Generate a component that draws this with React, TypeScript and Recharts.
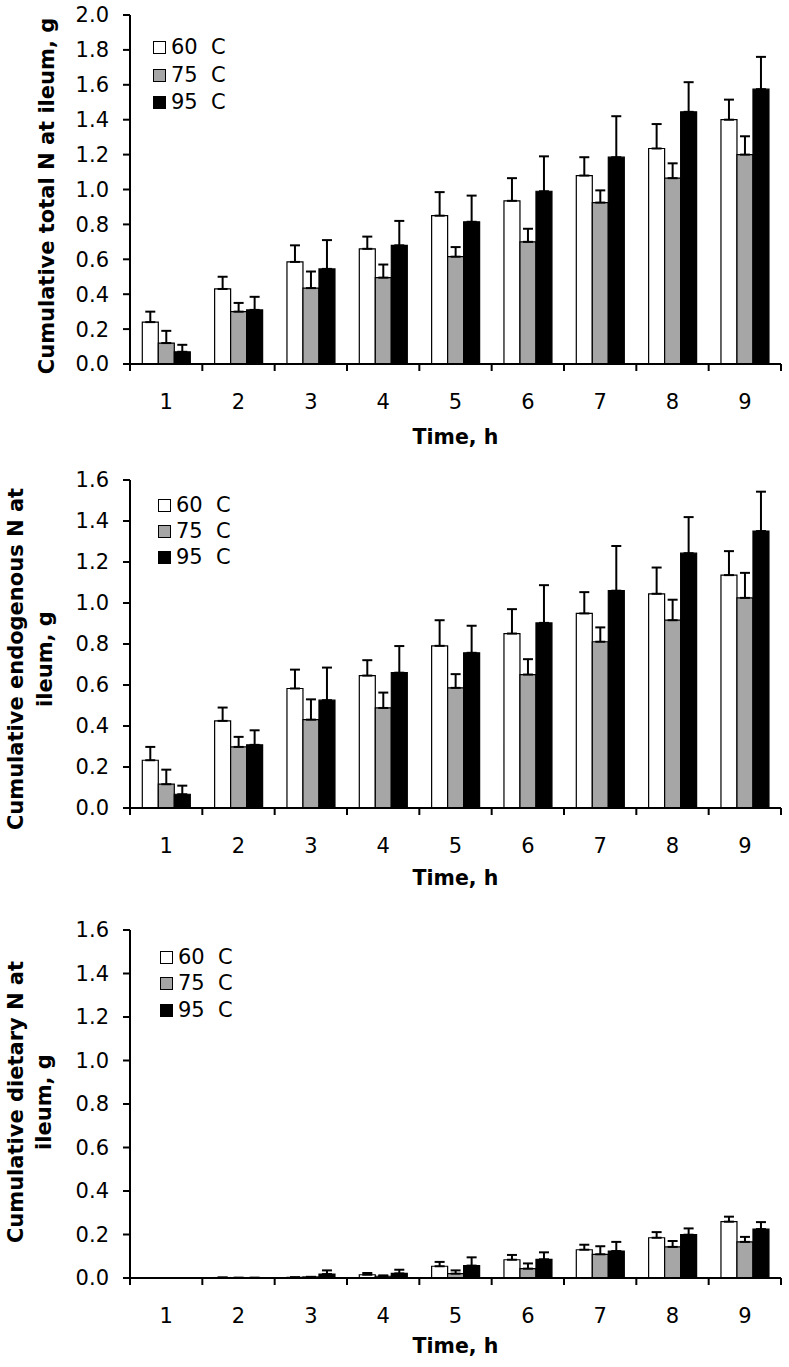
import React from 'react';
import { BarChart, Bar, XAxis, YAxis, ErrorBar, Legend } from 'recharts';

const hours = ['1', '2', '3', '4', '5', '6', '7', '8', '9'];
const seriesNames = ['60  C', '75  C', '95  C'];
const seriesFills = ['#ffffff', '#a6a6a6', '#000000'];

// cumulative total N at ileum, g
const total60 = [0.24, 0.43, 0.585, 0.66, 0.85, 0.935, 1.08, 1.235, 1.4];
const total75 = [0.12, 0.3, 0.435, 0.495, 0.615, 0.7, 0.925, 1.065, 1.2];
const total95 = [0.07, 0.31, 0.545, 0.68, 0.815, 0.99, 1.185, 1.445, 1.575];
const total60Err = [0.06, 0.07, 0.095, 0.07, 0.135, 0.13, 0.105, 0.14, 0.115];
const total75Err = [0.07, 0.05, 0.095, 0.075, 0.055, 0.075, 0.07, 0.085, 0.105];
const total95Err = [0.04, 0.075, 0.165, 0.14, 0.15, 0.2, 0.235, 0.17, 0.185];

// cumulative endogenous N at ileum, g
const endo60 = [0.233, 0.425, 0.583, 0.646, 0.791, 0.851, 0.949, 1.045, 1.136];
const endo75 = [0.116, 0.298, 0.431, 0.488, 0.586, 0.651, 0.811, 0.916, 1.025];
const endo95 = [0.067, 0.308, 0.526, 0.66, 0.757, 0.903, 1.06, 1.243, 1.351];
const endo60Err = [0.065, 0.065, 0.092, 0.075, 0.125, 0.119, 0.104, 0.128, 0.117];
const endo75Err = [0.071, 0.049, 0.099, 0.075, 0.067, 0.075, 0.07, 0.1, 0.122];
const endo95Err = [0.042, 0.071, 0.159, 0.13, 0.132, 0.184, 0.218, 0.176, 0.192];

// cumulative dietary N at ileum, g
const diet60 = [0, 0.002, 0.003, 0.015, 0.054, 0.084, 0.13, 0.185, 0.259];
const diet75 = [0, 0.001, 0.005, 0.008, 0.02, 0.043, 0.109, 0.143, 0.166];
const diet95 = [0, 0.001, 0.018, 0.021, 0.057, 0.086, 0.124, 0.199, 0.225];
const diet60Err = [0, 0, 0, 0.008, 0.02, 0.022, 0.023, 0.026, 0.023];
const diet75Err = [0, 0, 0, 0.004, 0.015, 0.024, 0.037, 0.027, 0.023];
const diet95Err = [0, 0, 0.017, 0.017, 0.038, 0.032, 0.042, 0.029, 0.032];

const ticks20 = [0, 0.2, 0.4, 0.6, 0.8, 1.0, 1.2, 1.4, 1.6, 1.8, 2.0];
const ticks16 = [0, 0.2, 0.4, 0.6, 0.8, 1.0, 1.2, 1.4, 1.6];

const FONT = "'DejaVu Sans', sans-serif";
const W = 789;
const Y_AXIS_W = 130;
const RIGHT = 8;
const BAND = (W - Y_AXIS_W - RIGHT) / hours.length;

function makeRows(vals: number[][], errs: number[][]) {
  return hours.map((h, i) => ({
    hour: h,
    v0: vals[0][i],
    v1: vals[1][i],
    v2: vals[2][i],
    e0: [0, errs[0][i]],
    e1: [0, errs[1][i]],
    e2: [0, errs[2][i]],
  }));
}

const panels = [
  {
    top: 0,
    height: 450,
    marginTop: 15,
    axisH: 86,
    yMax: 2,
    ticks: ticks20,
    data: makeRows([total60, total75, total95], [total60Err, total75Err, total95Err]),
    title: ['Cumulative total N at ileum, g'],
    titleX: [47],
    titleY: 196,
    timeDy: 73,
    legendTop: 34,
    legendLeft: 153,
    legendRow: 27.5,
  },
  {
    top: 450,
    height: 440,
    marginTop: 30,
    axisH: 82,
    yMax: 1.6,
    ticks: ticks16,
    data: makeRows([endo60, endo75, endo95], [endo60Err, endo75Err, endo95Err]),
    title: ['Cumulative endogenous N at', 'ileum, g'],
    titleX: [16, 45],
    titleY: 209,
    timeDy: 70,
    legendTop: 42,
    legendLeft: 158,
    legendRow: 26,
  },
  {
    top: 890,
    height: 477,
    marginTop: 40,
    axisH: 89,
    yMax: 1.6,
    ticks: ticks16,
    data: makeRows([diet60, diet75, diet95], [diet60Err, diet75Err, diet95Err]),
    title: ['Cumulative dietary N at', 'ileum, g'],
    titleX: [16, 44],
    titleY: 212,
    timeDy: 68,
    legendTop: 54,
    legendLeft: 160,
    legendRow: 26.5,
  },
];

const XTick = (props: any) => {
  const { x, y, payload, index } = props;
  const half = BAND / 2;
  return (
    <g>
      <line x1={x - half} x2={x - half} y1={y} y2={y + 7} stroke="#000" strokeWidth={2} />
      {index === hours.length - 1 && (
        <line x1={x + half} x2={x + half} y1={y} y2={y + 7} stroke="#000" strokeWidth={2} />
      )}
      <text x={x} y={y + 38} textAnchor="middle" dominantBaseline="central" fontSize={21} fontFamily={FONT} fill="#000">
        {payload.value}
      </text>
    </g>
  );
};

function LegendBox({ rowH }: { rowH: number }) {
  return (
    <div style={{ display: 'flex', flexDirection: 'column' }}>
      {seriesNames.map((name, i) => (
        <div key={name} style={{ display: 'flex', alignItems: 'center', height: rowH }}>
          <div
            style={{
              width: 13,
              height: 13,
              boxSizing: 'border-box',
              border: '1.5px solid #000',
              backgroundColor: seriesFills[i],
              marginRight: 5,
            }}
          />
          <span style={{ fontFamily: FONT, fontSize: 21, color: '#000', whiteSpace: 'pre', lineHeight: 1 }}>{name}</span>
        </div>
      ))}
    </div>
  );
}

function Panel({ p }: { p: (typeof panels)[number] }) {
  const yTitle = () => (
    <g>
      {p.title.map((line, i) => (
        <text
          key={i}
          x={p.titleX[i]}
          y={p.titleY}
          transform={`rotate(-90 ${p.titleX[i]} ${p.titleY})`}
          fontFamily={FONT}
          fontSize={21}
          fontWeight="bold"
          fill="#000"
          textAnchor="middle"
          dominantBaseline="central"
        >
          {line}
        </text>
      ))}
    </g>
  );
  const plotBottom = p.height - p.axisH;
  return (
    <div style={{ position: 'absolute', top: p.top, left: 0 }}>
      <BarChart
        width={W}
        height={p.height}
        data={p.data}
        margin={{ top: p.marginTop, right: RIGHT, bottom: 0, left: 0 }}
        barCategoryGap="17%"
        barGap={0}
      >
        <XAxis
          dataKey="hour"
          height={p.axisH}
          interval={0}
          tickLine={false}
          tickSize={0}
          tickMargin={0}
          axisLine={{ stroke: '#000', strokeWidth: 2 }}
          tick={XTick}
          label={() => (
            <text
              x={Y_AXIS_W + (W - Y_AXIS_W - RIGHT) / 2}
              y={plotBottom + p.timeDy}
              textAnchor="middle"
              dominantBaseline="central"
              fontFamily={FONT}
              fontSize={20.5}
              fontWeight="bold"
              fill="#000"
            >
              Time, h
            </text>
          )}
        />
        <YAxis
          width={Y_AXIS_W}
          domain={[0, p.yMax]}
          ticks={p.ticks}
          interval={0}
          tickFormatter={(v: number) => v.toFixed(1)}
          tickSize={7}
          tickMargin={14}
          axisLine={{ stroke: '#000', strokeWidth: 2 }}
          tickLine={{ stroke: '#000', strokeWidth: 2 }}
          tick={{ fontSize: 21, fill: '#000', fontFamily: FONT }}
          label={yTitle}
        />
        <Legend
          layout="vertical"
          align="center"
          verticalAlign="middle"
          wrapperStyle={{ top: p.legendTop, left: p.legendLeft, width: 'auto' }}
          content={() => <LegendBox rowH={p.legendRow} />}
        />
        {[0, 1, 2].map((s) => (
          <Bar
            key={s}
            dataKey={`v${s}`}
            name={seriesNames[s]}
            fill={seriesFills[s]}
            stroke="#000"
            strokeWidth={1.2}
            isAnimationActive={false}
          >
            <ErrorBar dataKey={`e${s}`} direction="y" width={5} strokeWidth={2} stroke="#000" />
          </Bar>
        ))}
      </BarChart>
    </div>
  );
}

export default function App() {
  return (
    <div style={{ position: 'absolute', top: 0, left: 0, width: W, height: 1367, background: '#fff' }}>
      {panels.map((p, i) => (
        <Panel key={i} p={p} />
      ))}
    </div>
  );
}
